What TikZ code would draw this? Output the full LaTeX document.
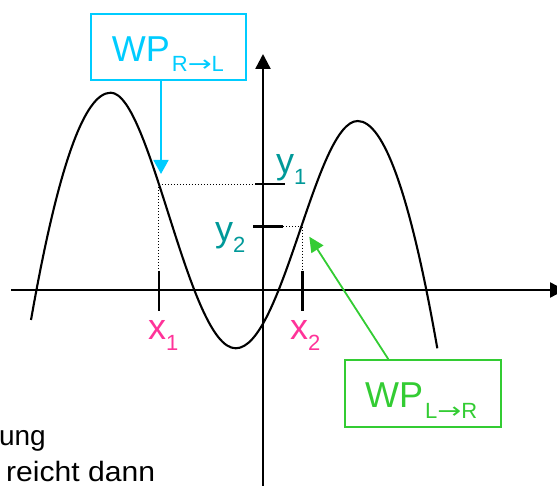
\documentclass[tikz,border=0pt]{standalone}
\usepackage{fontspec}
\setmainfont{Liberation Sans}
\newfontfamily\arrowfont{DejaVu Sans}
\usetikzlibrary{arrows.meta}
\definecolor{wpcyan}{HTML}{00CCFF}
\definecolor{wpgreen}{HTML}{33CC33}
\definecolor{yteal}{HTML}{009999}
\definecolor{xpink}{HTML}{FF3399}
\newcommand{\bigfs}{\fontsize{36}{36}\selectfont}
\newcommand{\subfs}{\fontsize{22}{22}\selectfont}
\newcommand{\txtfs}{\fontsize{28}{28}\selectfont}
\newcommand{\subarrow}{{\arrowfont\scalebox{1.3}[1]{→}}}
\begin{document}
\begin{tikzpicture}[x=1pt,y=-1pt,
  axisline/.style={line width=2.4pt,-{Triangle[length=15pt,width=15pt]}},
  curveline/.style={line width=2.1pt,line join=round},
  tickline/.style={line width=2.4pt},
  guideline/.style={line width=1pt,dotted},
  cbox/.style={draw=wpcyan,line width=1.8pt,minimum width=155pt,minimum height=66pt,inner sep=0pt},
  gbox/.style={draw=wpgreen,line width=1.8pt,minimum width=156pt,minimum height=66.7pt,inner sep=0pt},
  carrow/.style={draw=wpcyan,line width=1.8pt,-{Triangle[length=14pt,width=15pt]}},
  garrow/.style={draw=wpgreen,line width=1.8pt,-{Triangle[length=15pt,width=14pt]}},
  lbl/.style={anchor=base west,inner sep=0pt}
]
\useasboundingbox (0,0) rectangle (557,486);
\clip (0,0) rectangle (557,486);

% guide lines
\draw[guideline] (158.8,184.3) -- (255,184.3);
\draw[guideline] (158.8,184.3) -- (158.8,271);
\draw[guideline] (283,226.7) -- (302.5,226.7);
\draw[guideline] (302.5,226.7) -- (302.5,271);

% curve
\draw[curveline] (31,320) .. controls (57.6,168.5) and (84.1,92.7) .. (110.7,92.7)
  .. controls (150.7,92.7) and (188.7,348.3) .. (235.7,348.3)
  .. controls (282.7,348.3) and (315.7,121) .. (357.7,121)
  .. controls (384.2,121) and (410.8,196.8) .. (437.3,348.3);

% axes
\coordinate (xa0) at (11,290);
\coordinate (xa1) at (565,290);
\coordinate (ya0) at (263,490);
\coordinate (ya1) at (263,54);
\draw[axisline] (xa0) -- (xa1);
\draw[axisline] (ya0) -- (ya1);

% ticks
\draw[tickline] (158.8,271) -- (158.8,311);
\draw[tickline] (302.5,271) -- (302.5,311);
\draw[tickline] (255,184.3) -- (285,184.3);
\draw[tickline] (253,226.7) -- (283,226.7);

% labels
\node[lbl,text=yteal] (ylab1) at (276,174) {\bigfs y\raisebox{-11pt}{\subfs 1}};
\node[lbl,text=yteal] (ylab2) at (215,242) {\bigfs y\raisebox{-11pt}{\subfs 2}};
\node[lbl,text=xpink] (xlab1) at (148,340) {\bigfs x\raisebox{-11pt}{\subfs 1}};
\node[lbl,text=xpink] (xlab2) at (290,340) {\bigfs x\raisebox{-11pt}{\subfs 2}};

% boxes
\node[cbox] (wprl) at (168.5,47) {};
\node[lbl,text=wpcyan] (wprltxt) at (111.7,61.7) {\bigfs WP\kern2pt\raisebox{-10pt}{\subfs R\subarrow L}};
\node[gbox] (wplr) at (423,393.4) {};
\node[lbl,text=wpgreen] (wplrtxt) at (365,407.3) {\bigfs WP\kern2pt\raisebox{-11pt}{\subfs L\subarrow R}};

% arrows
\coordinate (ctip) at (161,174);
\coordinate (gtip) at (309.3,236.7);
\draw[carrow] ([xshift=-7.5pt]wprl.south) -- (ctip);
\draw[garrow] ([xshift=-34.7pt]wplr.north) -- (gtip);

% cut text
\node[anchor=base east,inner sep=0pt] (t1) at (46,445) {\txtfs ung};
\node[anchor=base west,inner sep=0pt] (t2) at (6,481.5) {\txtfs\scalebox{1.075}[1]{reicht dann}};
\end{tikzpicture}
\end{document}
